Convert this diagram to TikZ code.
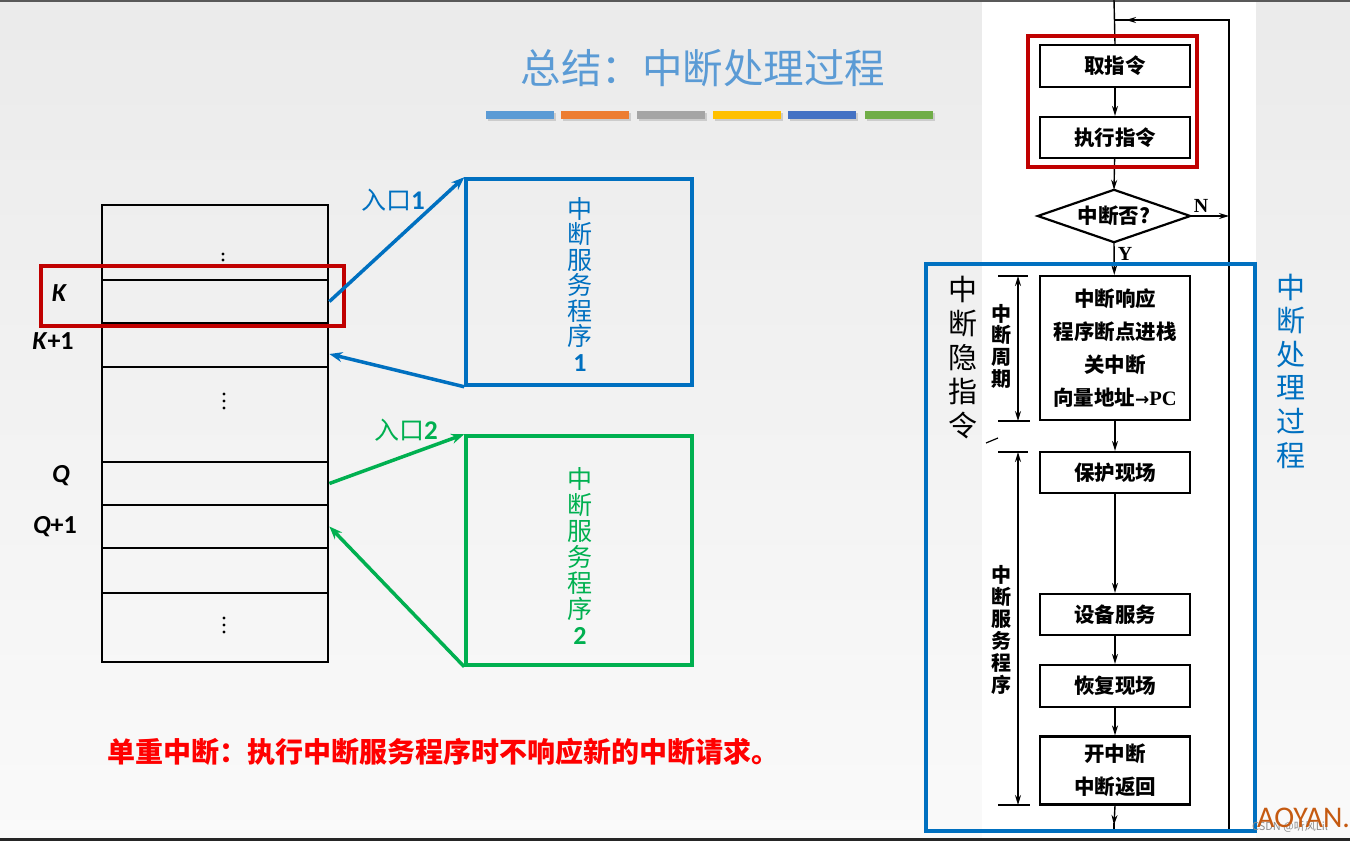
\documentclass[tikz,border=0pt]{standalone}
\usepackage{fontspec}
\setmainfont{Carlito}
\newfontfamily\cjk{Noto Sans CJK SC}
\usetikzlibrary{shapes.geometric,arrows.meta}
\definecolor{tblue}{HTML}{5B9BD5}
\definecolor{bblue}{HTML}{0070C0}
\definecolor{bgreen}{HTML}{00B050}
\definecolor{dred}{HTML}{C00000}
\definecolor{aoyan}{HTML}{C55A11}
\newcommand{\fs}[2]{\fontsize{#1}{#2}\selectfont}
\tikzset{
  row/.style={draw=black, line width=2.8pt, minimum width=226pt, inner sep=0pt},
  fc/.style={draw=black, line width=2.2pt, minimum width=150pt, inner sep=0pt, align=center, font=\cjk\bfseries\fs{20.5}{33}},
  fca/.style={line width=1.4pt, -{Stealth[length=10pt,width=6pt]}},
  fcl/.style={line width=1.4pt},
  svc/.style={line width=3.5pt, minimum width=226pt, inner sep=0pt},
}
\begin{document}
\begin{tikzpicture}[x=1pt,y=-1pt]
\useasboundingbox (0,0) rectangle (1350,841);
\shade[top color=black!8, bottom color=black!2] (0,0) rectangle (1350,841);
\fill[white] (982,0) rectangle (1256,838);
\fill[black!65] (0,0) rectangle (1350,1.5);
\fill[black!85] (0,837.5) rectangle (1350,841);

% title
\node[text=tblue, font=\cjk\fs{40.5}{44}] (title) at (703,68) {总结：中断处理过程};
\foreach \x/\c in {486/5B9BD5,561/ED7D31,637/A5A5A5,713/FFC000,788/4472C4,865/70AD47}{
  \definecolor{bc}{HTML}{\c}
  \fill[black!20] (\x+1.5,113) rectangle (\x+69.5,120.5);
  \fill[bc] (\x,111) rectangle (\x+68,119);
}

% memory table
\node[row, minimum height=75pt] (r1) at (215,242.5) {};
\node[row, minimum height=43pt] (rK) at (215,301.5) {};
\node[row, minimum height=44pt] (rK1) at (215,345) {};
\node[row, minimum height=95pt] (r4) at (215,414.5) {};
\node[row, minimum height=43pt] (rQ) at (215,483.5) {};
\node[row, minimum height=43pt] (rQ1) at (215,526.5) {};
\node[row, minimum height=45pt] (r7) at (215,570.5) {};
\node[row, minimum height=69pt] (r8) at (215,627.5) {};
\foreach \y in {254,260}{\fill (223,\y) circle (1.7pt);}
\foreach \y in {394,401,408}{\fill (224,\y) circle (1.7pt);}
\foreach \y in {618,625,632}{\fill (224,\y) circle (1.7pt);}

\node[font=\bfseries\itshape\fs{26}{28}] (lK) at (59,293) {K};
\node[font=\bfseries\fs{26}{28}] (lK1) at (53,341) {\textit{K}+1};
\node[font=\bfseries\itshape\fs{26}{28}] (lQ) at (61,476) {Q};
\node[font=\bfseries\fs{26}{28}] (lQ1) at (55,527) {\textit{Q}+1};

\draw[dred, line width=4.5pt] (41,266) rectangle (344,326);

% service boxes
\node[svc, draw=bblue, minimum height=206pt] (s1) at (579,282) {};
\node[text=bblue, align=center, font=\cjk\fs{25}{25.5}] (s1t) at (580,284) {中\\断\\服\\务\\程\\序\\{\bfseries\fs{26}{25.5}\rmfamily 1}};
\node[svc, draw=bgreen, minimum height=229pt] (s2) at (579,550.5) {};
\node[text=bgreen, align=center, font=\cjk\fs{25}{26}] (s2t) at (580,556) {中\\断\\服\\务\\程\\序\\{\bfseries\fs{26}{26}\rmfamily 2}};

\draw[bblue, line width=3.5pt, -{Stealth[length=13pt,width=10pt]}] (rK.east) -- (s1.north west);
\draw[bblue, line width=3.5pt, -{Stealth[length=13pt,width=10pt]}] (s1.south west) -- ([yshift=-9pt]rK1.east);
\draw[bgreen, line width=3.5pt, -{Stealth[length=13pt,width=10pt]}] (rQ.east) -- (s2.north west);
\draw[bgreen, line width=3.5pt, -{Stealth[length=13pt,width=10pt]}] (s2.south west) -- (rQ1.east);
\node[text=bblue, font=\cjk\fs{25}{28}] (e1) at (393,200) {入口{\rmfamily\bfseries\fs{27}{28}1}};
\node[text=bgreen, font=\cjk\fs{25}{28}] (e2) at (406,430) {入口{\rmfamily\bfseries\fs{27}{28}2}};

\node[text=red, font=\cjk\bfseries\fs{28}{30}, anchor=west] (note) at (104,752) {单重中断：执行中断服务程序时不响应新的中断请求。};

% flowchart
\coordinate (ctop) at (1114,0);
\coordinate (ctl) at (1114,20);
\coordinate (ctr) at (1229,20);
\coordinate (cN) at (1229,216);
\coordinate (cbr) at (1229,831);
\coordinate (cbot) at (1114,831);
\node[fc, minimum height=42pt] (b1) at (1115,66) {取指令};
\node[fc, minimum height=41pt] (b2) at (1115,137.5) {执行指令};
\node[minimum width=152pt, minimum height=52pt, inner sep=0pt, font=\cjk\bfseries\fs{20.5}{22}] (d) at (1114,216) {中断否?};
\draw[line width=2.2pt, line join=miter] (d.west) -- (d.north) -- (d.east) -- (d.south) -- cycle;
\node[fc, minimum height=144pt] (b3) at (1115,348) {中断响应\\程序断点进栈\\关中断\\向量地址{\fontspec{DejaVu Sans}\bfseries\fs{17}{33}→}{\fontspec{Liberation Serif}\bfseries PC}};
\node[fc, minimum height=41pt] (b4) at (1115,472.5) {保护现场};
\node[fc, minimum height=41pt] (b5) at (1115,614.5) {设备服务};
\node[fc, minimum height=42pt] (b6) at (1115,686) {恢复现场};
\node[fc, minimum height=68pt] (b7) at (1115,770.5) {开中断\\中断返回};

\draw[fcl] (ctop) -- (b1.north);
\draw[fca] (b1) -- (b2);
\draw[fca] (b2) -- (d.north);
\draw[fca] (d.south) -- (b3);
\draw[fca] (b3) -- (b4);
\draw[fca] (b4) -- (b5);
\draw[fca] (b5) -- (b6);
\draw[fca] (b6) -- (b7);
\draw[fca] (b7.south) -- ([yshift=6pt]cbot);
\draw[fcl] ([yshift=8pt]cbot) -- (cbot) -- (cbr) -- (ctr) -- (ctl);
\draw[fca] (ctr) -- ([xshift=12pt]ctl);
\draw[fca] (d.east) -- (cN);
\node[font=\fontspec{Liberation Serif}\bfseries\fs{20}{22}] (lN) at (1201,206) {N};
\node[font=\fontspec{Liberation Serif}\bfseries\fs{20}{22}] (lY) at (1125,254) {Y};

\draw[dred, line width=4.5pt] (1028,36) rectangle (1197,167);

% brackets
\coordinate (k1t) at (1018,276);
\coordinate (k1b) at (1018,421);
\coordinate (k2t) at (1018,452);
\coordinate (k2b) at (1018,805);
\draw[line width=1.4pt, {Stealth[length=10pt,width=6pt]}-{Stealth[length=10pt,width=6pt]}] (k1t) -- (k1b);
\draw[line width=1.4pt, {Stealth[length=10pt,width=6pt]}-{Stealth[length=10pt,width=6pt]}] (k2t) -- (k2b);
\draw[line width=1.4pt] ([xshift=-20pt]k1t) -- ([xshift=10pt]k1t);
\draw[line width=1.4pt] ([xshift=-20pt]k1b) -- ([xshift=12pt]k1b);
\draw[line width=1.4pt] ([xshift=-20pt]k2t) -- ([xshift=10pt]k2t);
\draw[line width=1.4pt] ([xshift=-20pt]k2b) -- ([xshift=12pt]k2b);
\draw[line width=1.2pt] (986,443) -- (998,438);
\node[align=center, font=\cjk\bfseries\fs{20}{21.7}] (tz) at (1001,346) {中\\断\\周\\期};
\node[align=center, font=\cjk\bfseries\fs{20}{22}] (tf) at (1001,630) {中\\断\\服\\务\\程\\序};
\node[align=center, font=\cjk\fs{29}{34}] (ty) at (963,358) {中\\断\\隐\\指\\令};

\draw[bblue, line width=4pt] (926,264) rectangle (1255,831);
\node[align=center, text=bblue, font=\cjk\fs{29}{33.6}] (tp) at (1291,371) {中\\断\\处\\理\\过\\程};

\node[text=black!45, font=\cjk\fs{11}{12}] (csdn) at (1290,827) {CSDN @听风Lil};
\node[text=aoyan, font=\fs{30}{32}, anchor=west, inner sep=0pt] (ao) at (1257,818) {AOYAN.};
\end{tikzpicture}
\end{document}
